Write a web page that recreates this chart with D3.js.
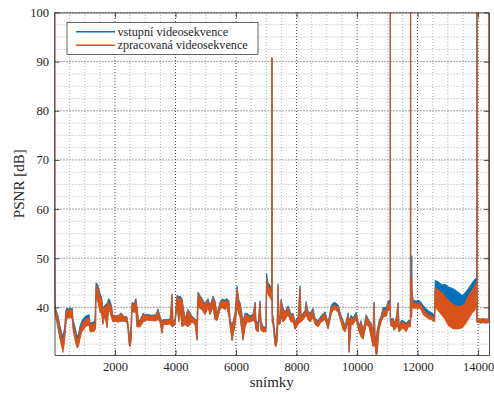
<!DOCTYPE html>
<html>
<head>
<meta charset="utf-8">
<script src="https://cdn.jsdelivr.net/npm/d3@7"></script>
<style>
  body { margin: 0; background: #fff; }
  svg { display: block; }
  text { font-family: "Liberation Serif", "Times New Roman", "DejaVu Serif", serif; fill: #262626; }
</style>
</head>
<body>
<div id="chart"></div>
<script>
// tick labels
const xTicks = [2000, 4000, 6000, 8000, 10000, 12000, 14000];
const yTicks = [40, 50, 60, 70, 80, 90, 100];

const seriesNames = ['vstupní videosekvence', 'zpracovaná videosekvence'];
const seriesColors = ['#0072BD', '#D95319'];

// PSNR per frame as [frame, low, high] of the noisy band
const vstupni = [
  [0,100,100],[4,56,58],[12,39,40.7],[60,37.8,39.3],[120,36,38.3],[182,34,36.3],[240,32.5,34.8],
  [281,31.5,34.2],[320,33,35.4],[347,34.5,36.8],[380,37,39.6],[413,38,39.8],[470,38,39.7],
  [512,38.2,39.9],[560,38,39.7],[590,37.8,39.8],[610,36,37.6],[680,33.8,36],[744,32.2,34.2],
  [790,32.5,34.5],[843,34,36.2],[900,35.5,37.2],[942,35.7,37.6],[1020,36.4,38.2],[1107,36.6,38.4],
  [1150,36.6,38.5],[1174,35.3,36.9],[1250,35.3,36.9],[1339,35.6,37.3],[1360,36.3,41.4],
  [1372,42.3,45],[1438,41.3,44.5],[1504,39.3,42.9],[1560,38.9,41.9],[1603,36.8,39.9],
  [1670,38.7,40.5],[1736,36,40.8],[1790,39.8,41.8],[1835,39.3,41.4],[1880,38.3,40.5],
  [1934,37.1,38.4],[2000,37.2,38.3],[2100,37,38.3],[2200,37.2,38.9],[2300,37.2,38.1],
  [2397,37,38.1],[2430,35.5,36.7],[2470,32.4,34.2],[2496,32,34.7],[2530,33,36.2],
  [2562,39.3,41],[2620,39.1,40.8],[2694,39.1,41.8],[2727,36.1,40.2],[2780,36.1,37.2],
  [2827,36.1,37.4],[2926,37.1,38.8],[3000,37.3,38.5],[3058,37.5,38.6],[3200,37.4,38.4],
  [3350,37.3,38.5],[3421,37.6,39.7],[3488,37.1,38.2],[3554,34.8,37.2],[3600,36.6,37.5],
  [3720,36.6,37.5],[3818,36.7,37.6],[3885,36.1,42.7],[3918,36.1,37.2],[3984,36.6,37.7],
  [4050,40.6,42.5],[4110,37.1,42.1],[4149,40.1,42.3],[4215,36.1,41.8],[4314,36.6,37.7],
  [4413,36.1,39.6],[4546,37.1,38.2],[4645,36.6,37.7],[4711,33.4,37.2],[4744,40.1,43.1],
  [4876,39.6,41.8],[4976,38.6,40.8],[5075,40.1,41.8],[5141,38.6,40.3],[5240,40.1,42.3],
  [5306,37.6,41.3],[5372,37.4,38.7],[5471,39.6,41.1],[5538,40.1,41.7],[5637,39.6,41.5],
  [5703,40.1,41.8],[5769,38.1,41.3],[5802,36.4,37.7],[5868,33.3,36.2],[5968,36.6,39],
  [6034,40.1,44.3],[6100,38.6,41.3],[6133,38.1,41],[6232,33.4,37.2],[6298,36.1,38.8],
  [6364,37.1,38.8],[6463,37.1,38.3],[6563,37.4,38.6],[6629,37.1,41.1],[6662,35.4,37.3],
  [6728,35.1,36.8],[6794,39.1,41.3],[6827,35.4,37.3],[6893,35.1,36.1],[6990,35.1,35.9],
  [7008,44.5,47],[7058,43,45],[7124,42.4,44.5],[7157,41.9,44],[7180,41.8,43.8],[7184,42,90.8],
  [7192,40,90.8],[7196,37,38.5],
  [7223,36.6,38.3],[7290,32.4,34.3],[7323,32.1,33.8],[7356,33.1,36.3],[7389,37.1,44.8],
  [7422,36.6,38.3],[7455,36.7,37.8],[7488,38.1,41.7],[7554,37.1,39.8],[7620,37.6,39.1],
  [7720,38.6,40.3],[7819,37.1,38.6],[7885,37.1,38.8],[7951,35.6,37.1],[8050,36.6,38.1],
  [8116,37.1,44.4],[8149,37.1,38.3],[8215,37.6,38.8],[8282,38.1,39.4],[8315,38.6,41.2],
  [8381,37.6,39.3],[8447,37.1,38.8],[8546,38.1,39.8],[8612,36.6,37.8],[8711,36.1,37.3],
  [8811,37.1,38.3],[8943,37.6,39.1],[9042,35.7,36.9],[9141,38.6,40.3],[9207,39.6,40.9],
  [9274,39.6,41],[9373,39.1,40.5],[9472,37.1,38.4],[9538,35.6,37.3],[9604,35.1,36.3],
  [9703,37.1,38.9],[9736,30.9,37.3],[9802,36.6,38.4],[9869,36.6,37.9],[9968,37.6,39],
  [10067,35.1,36.3],[10133,34.1,37.3],[10199,33.6,35.3],[10299,36.6,38.5],[10398,36.1,37.3],
  [10464,34.1,36.8],[10530,32.1,35.3],[10563,32.6,41.1],[10596,32.1,34.3],[10629,30.4,33.3],
  [10662,30.6,35.3],[10728,35.6,37.3],[10795,37.1,38.3],[10861,38.1,40],[10960,38.3,39.9],
  [11026,39.5,41.3],[11090,39.6,41.5],[11094,38,100],[11102,37,100],[11106,36.4,37.6],
  [11191,36.1,37.8],[11224,35.4,36.8],[11290,36.1,37.8],[11357,36.1,41],[11390,35.1,36.3],
  [11456,35.6,37.3],[11522,35.9,37.3],[11622,35.1,36.8],[11688,36.1,37.3],[11760,36.2,37.3],
  [11764,36,100],[11772,38,100],[11776,38,40],[11800,38,40],[11804,38,50.5],[11812,40.2,50.5],
  [11816,40.2,43.5],[11853,40,41.5],[11952,40,41.3],
  [12051,40,41.4],[12118,39.7,41],[12184,38.8,40.4],[12283,38.3,39.7],[12382,37.9,39.2],
  [12448,37.8,39],[12514,37.5,38.7],[12560,37.3,38.5],[12581,43.5,45.5],[12680,43,45.2],
  [12812,42.5,44.6],[12911,42,44.7],[13010,41.5,44.2],[13176,40.5,43.8],[13341,40,43.1],
  [13474,40,42.4],[13573,40.8,43],[13672,42,43.8],[13804,43,45],[13903,44,45.8],
  [13953,44.5,46],[13958,37,100],[13966,37,100],[13970,37,37.8],[14068,36.8,37.6],
  [14167,36.9,37.7],[14266,36.8,37.6],[14352,36.9,37.6],[14360,100,100]
];

const zpracovana = [
  [0,100,100],[4,56,58],[12,39,40.5],[60,37.5,39],[120,35.5,37.5],[182,33.5,35.5],[240,32,34],
  [281,30.8,33.4],[320,32.5,34.5],[347,34,36],[380,36.5,39],[413,37.8,39.5],[470,37.8,39.4],
  [512,38,39.6],[560,37.8,39.4],[590,37.5,39.5],[610,35.5,37],[680,33.3,35.3],[744,31.7,33.5],
  [790,32,33.8],[843,33.5,35.5],[900,35,36.5],[942,35.2,37],[1020,36,37.6],[1107,36.3,37.8],
  [1150,36.3,38],[1174,35,36.5],[1250,35,36.5],[1339,35.3,37],[1360,36,41],[1372,42,44.5],
  [1438,41,44],[1504,39,42.4],[1560,38.6,41.5],[1603,36.5,39.6],[1670,38.5,40.2],
  [1736,35.8,40.5],[1790,39.5,41.2],[1835,39,40.8],[1880,38,40],[1934,37,38.2],
  [2000,37.2,38.2],[2100,37,38.2],[2200,37.2,38.8],[2300,37.2,38],[2397,37,38],
  [2430,35.5,36.5],[2470,32.4,34],[2496,32,34.5],[2530,33,36],[2562,39.2,40.7],
  [2620,39,40.5],[2694,39,41.5],[2727,36,40],[2780,36,37],[2827,36,37.2],[2926,37,38.6],
  [3000,37.2,38.3],[3058,37.4,38.4],[3200,37.3,38.2],[3350,37.2,38.3],[3421,37.5,39.4],
  [3488,37,38],[3554,34.7,37],[3600,36.5,37.3],[3720,36.5,37.3],[3818,36.6,37.4],
  [3885,36,42.4],[3918,36,37],[3984,36.5,37.5],[4050,40.5,42.2],[4110,37,41.8],
  [4149,40,42],[4215,36,41.5],[4314,36.5,37.5],[4413,36,39.4],[4546,37,38],[4645,36.5,37.5],
  [4711,33.3,37],[4744,40,42.8],[4876,39.5,41.5],[4976,38.5,40.5],[5075,40,41.5],
  [5141,38.5,40],[5240,40,42],[5306,37.5,41],[5372,37.3,38.5],[5471,39.5,40.8],
  [5538,40,41.4],[5637,39.5,41.2],[5703,40,41.5],[5769,38,41],[5802,36.3,37.5],
  [5868,33.2,36],[5968,36.5,38.7],[6034,40,43.9],[6100,38.5,41],[6133,38,40.7],
  [6232,33.3,37],[6298,36,38.5],[6364,37,38.5],[6463,37,38],[6563,37.3,38.3],
  [6629,37,40.8],[6662,35.3,37],[6728,35,36.5],[6794,39,41],[6827,35.3,37],[6893,35,35.8],
  [6990,35,35.6],[7008,44,46],[7058,42.5,44.5],[7124,42,44],[7157,41.5,43.5],
  [7180,41.5,43.3],[7184,42,90.8],[7192,40,90.8],[7196,36.8,38.2],[7223,36.5,38],
  [7290,32.3,34],[7323,32,33.5],[7356,33,36],
  [7389,37,44.5],[7422,36.5,38],[7455,36.6,37.5],[7488,38,41.4],[7554,37,39.5],
  [7620,37.5,38.8],[7720,38.5,40],[7819,37,38.3],[7885,37,38.5],[7951,35.5,36.8],
  [8050,36.5,37.8],[8116,37,44],[8149,37,38],[8215,37.5,38.5],[8282,38,39],[8315,38.5,40.8],
  [8381,37.5,39],[8447,37,38.5],[8546,38,39.4],[8612,36.5,37.5],[8711,36,37],[8811,37,38],
  [8943,37.5,38.8],[9042,35.6,36.6],[9141,38.5,39.8],[9207,39.5,40.4],[9274,39.5,40.5],
  [9373,39,40],[9472,37,38],[9538,35.5,37],[9604,35,36],[9703,37,38.5],[9736,30.8,37],
  [9802,36.5,38],[9869,36.5,37.5],[9968,37.5,38.6],[10067,35,36],[10133,34,37],
  [10199,33.5,35],[10299,36.5,38.2],[10398,36,37],[10464,34,36.5],[10530,32,35],
  [10563,32.5,40.8],[10596,32,34],[10629,30.3,33],[10662,30.5,35],[10728,35.5,37],
  [10795,37,38],[10861,38,39.5],[10960,38.2,39.4],[11026,39.4,40.8],[11090,39.5,41],
  [11094,38,100],[11102,37,100],[11106,36.3,37.3],[11191,36,37.5],[11224,35.3,36.5],
  [11290,36,37.5],[11357,36,40.7],[11390,35,36],[11456,35.5,37],[11522,35.8,37],
  [11622,35,36.5],[11688,36,37],[11760,36,37],[11764,36,100],[11772,38,100],[11776,38,40],
  [11800,38,40],[11804,38,46],[11812,40,46],[11816,40,43],
  [11853,39.8,41],[11952,39.8,40.8],[12051,39.8,40.9],[12118,39.5,40.5],[12184,38.5,39.7],
  [12283,38,39],[12382,37.6,38.5],[12448,37.5,38.3],[12514,37.2,38],[12560,37,37.8],
  [12581,40,44.1],[12680,39.3,43.6],[12812,38.3,43],[12911,37.5,42.2],[13010,36.3,41.5],
  [13176,35.6,40.6],[13341,35.6,40.2],[13474,35.8,40.3],[13573,36.5,41],[13672,37.5,42.3],
  [13804,38.8,43.5],[13903,39.5,44.7],[13953,41,45],[13958,37,100],[13966,37,100],
  [13970,37,37.8],[14068,36.8,37.6],[14167,36.9,37.7],[14266,36.8,37.6],[14352,36.9,37.6],
  [14360,100,100]
];

const width = 494, height = 394;
const margin = { top: 12.5, right: 5, bottom: 39, left: 54.5 };
const fontFamily = '"Liberation Serif", "Times New Roman", "DejaVu Serif", serif';

const svg = d3.select('#chart')
  .append('svg')
  .attr('width', width)
  .attr('height', height);

const x = d3.scaleLinear().domain([1, 14360]).range([margin.left, width - margin.right]);
const y = d3.scaleLinear().domain([30.3, 100]).range([height - margin.bottom, margin.top]);

const [x0, x1] = x.range();
const [y0, y1] = y.range();

// Grid (minor then major, both dotted)
const xMinor = d3.range(500, 14360, 500).filter(v => v % 2000 !== 0);
const yMinor = d3.range(32.5, 100, 2.5).filter(v => v % 10 !== 0);

const grid = svg.append('g').attr('class', 'grid');
grid.selectAll('line.xminor').data(xMinor).enter().append('line')
  .attr('x1', d => x(d)).attr('x2', d => x(d)).attr('y1', y0).attr('y2', y1)
  .attr('stroke', '#555').attr('stroke-opacity', 0.55).attr('stroke-width', 0.8)
  .attr('stroke-dasharray', '1,2');
grid.selectAll('line.yminor').data(yMinor).enter().append('line')
  .attr('x1', x0).attr('x2', x1).attr('y1', d => y(d)).attr('y2', d => y(d))
  .attr('stroke', '#555').attr('stroke-opacity', 0.55).attr('stroke-width', 0.8)
  .attr('stroke-dasharray', '1,2');
grid.selectAll('line.xmajor').data(xTicks).enter().append('line')
  .attr('x1', d => x(d)).attr('x2', d => x(d)).attr('y1', y0).attr('y2', y1)
  .attr('stroke', '#000').attr('stroke-opacity', 0.8).attr('stroke-width', 0.9)
  .attr('stroke-dasharray', '1,2');
grid.selectAll('line.ymajor').data(yTicks).enter().append('line')
  .attr('x1', x0).attr('x2', x1).attr('y1', d => y(d)).attr('y2', d => y(d))
  .attr('stroke', '#000').attr('stroke-opacity', 0.8).attr('stroke-width', 0.9)
  .attr('stroke-dasharray', '1,2');

// Series
svg.append('clipPath').attr('id', 'clip')
  .append('rect').attr('x', x0).attr('y', y1).attr('width', x1 - x0).attr('height', y0 - y1);

const band = d3.area()
  .x(d => x(d[0]))
  .y0(d => y(d[1]))
  .y1(d => y(d[2]));

const plot = svg.append('g').attr('clip-path', 'url(#clip)');
[vstupni, zpracovana].forEach((series, i) => {
  plot.append('path')
    .datum(series)
    .attr('d', band)
    .attr('fill', seriesColors[i])
    .attr('stroke', seriesColors[i])
    .attr('stroke-width', 0.8)
    .attr('stroke-linejoin', 'round');
});

// Axes (ticks inward on all four sides)
const axisStyle = g => {
  g.attr('font-family', fontFamily);
  g.select('.domain').attr('stroke', '#262626').attr('stroke-width', 0.8);
  g.selectAll('.tick line').attr('stroke', '#262626').attr('stroke-width', 0.8);
  g.selectAll('text').attr('font-size', '12.5px').attr('fill', '#262626')
    .attr('font-family', fontFamily);
};

svg.append('g')
  .attr('transform', `translate(0,${y0})`)
  .call(d3.axisBottom(x).tickValues(xTicks).tickFormat(d3.format('d'))
    .tickSizeInner(-5).tickSizeOuter(0).tickPadding(7.5))
  .call(axisStyle);
svg.append('g')
  .attr('transform', `translate(0,${y1})`)
  .call(d3.axisTop(x).tickValues(xTicks).tickSizeInner(-5).tickSizeOuter(0).tickFormat(''))
  .call(axisStyle);
svg.append('g')
  .attr('transform', `translate(${x0},0)`)
  .call(d3.axisLeft(y).tickValues(yTicks).tickFormat(d3.format('d'))
    .tickSizeInner(-5).tickSizeOuter(0).tickPadding(5.5))
  .call(axisStyle);
svg.append('g')
  .attr('transform', `translate(${x1},0)`)
  .call(d3.axisRight(y).tickValues(yTicks).tickSizeInner(-5).tickSizeOuter(0).tickFormat(''))
  .call(axisStyle);

// Axis titles
svg.append('text')
  .attr('x', (x0 + x1) / 2)
  .attr('y', 387)
  .attr('text-anchor', 'middle')
  .attr('font-family', fontFamily)
  .attr('font-size', '15px')
  .text('snímky');

svg.append('text')
  .attr('transform', `translate(24,${(y0 + y1) / 2}) rotate(-90)`)
  .attr('text-anchor', 'middle')
  .attr('font-family', fontFamily)
  .attr('font-size', '15px')
  .text('PSNR [dB]');

// Legend
const legend = svg.append('g').attr('transform', 'translate(67,22.5)');
legend.append('rect')
  .attr('width', 191).attr('height', 32)
  .attr('fill', '#fff').attr('stroke', '#262626').attr('stroke-width', 0.7);
seriesNames.forEach((name, i) => {
  const ly = 9.3 + i * 13.4;
  legend.append('line')
    .attr('x1', 9).attr('x2', 48).attr('y1', ly).attr('y2', ly)
    .attr('stroke', seriesColors[i]).attr('stroke-width', 1.5);
  legend.append('text')
    .attr('x', 50.5).attr('y', ly + 3.7)
    .attr('font-family', fontFamily)
    .attr('font-size', '12.2px')
    .text(name);
});
</script>
</body>
</html>
